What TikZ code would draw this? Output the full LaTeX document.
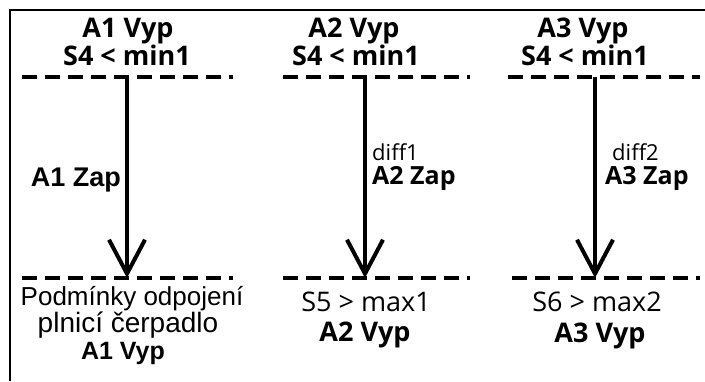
\documentclass[tikz,border=0pt]{standalone}
\usepackage{fontspec}
\usetikzlibrary{arrows.meta}
\newfontfamily\segfont{Open Sans}
\newfontfamily\robfont{Liberation Sans}
\begin{document}
\begin{tikzpicture}[x=1pt,y=-1pt,
  toptxt/.style={font=\segfont\bfseries\fontsize{27}{30}\selectfont, inner sep=0pt, anchor=base},
  segtxt/.style={font=\segfont\fontsize{27}{30}\selectfont, inner sep=0pt, anchor=base},
  difftxt/.style={font=\segfont\fontsize{22}{24}\selectfont, inner sep=0pt, anchor=base west},
  segbold/.style={font=\segfont\bfseries\fontsize{25}{28}\selectfont, inner sep=0pt, anchor=base},
  segboldb/.style={font=\segfont\bfseries\fontsize{27}{30}\selectfont, inner sep=0pt, anchor=base},
  robtxt/.style={font=\robfont\fontsize{26}{28}\selectfont, inner sep=0pt, anchor=base},
  robtxtb/.style={font=\robfont\fontsize{28}{30}\selectfont, inner sep=0pt, anchor=base},
  robbold/.style={font=\robfont\bfseries\fontsize{27}{28}\selectfont, inner sep=0pt, anchor=base},
  robboldb/.style={font=\robfont\bfseries\fontsize{25}{28}\selectfont, inner sep=0pt, anchor=base},
  dashline/.style={line width=4pt, dash pattern=on 15pt off 8pt},
  flow/.style={line width=4pt, -{Straight Barb[length=34pt,width=36pt]}},
  frame/.style={line width=2.5pt}]
\useasboundingbox (0,0) rectangle (705,381);
\draw[frame] (10,381) -- (10,10) -- (705,10);
% column 1
\node[toptxt] (t1a) at (128,37) {A1 Vyp};
\node[toptxt] (t1b) at (127,65) {S4 < min1};
\coordinate (d1l) at (22,77); \coordinate (d1r) at (233,77);
\coordinate (e1l) at (22,278); \coordinate (e1r) at (233,278);
\draw[dashline] (d1l) -- (d1r);
\draw[dashline] (e1l) -- (e1r);
\coordinate (s1) at (127,77); \coordinate (f1) at (127,278);
\draw[flow] (s1) -- (f1);
\node[robbold, anchor=base east] (z1) at (121,186) {A1 Zap};
\node[robtxt] (b1a) at (132,305) {Podmínky odpojení};
\node[robtxtb] (b1b) at (128,332) {plnicí čerpadlo};
\node[robboldb] (b1c) at (123,359) {A1 Vyp};
% column 2
\node[toptxt] (t2a) at (354,37) {A2 Vyp};
\node[toptxt] (t2b) at (356,65) {S4 < min1};
\coordinate (d2l) at (283,77); \coordinate (d2r) at (470,77);
\coordinate (e2l) at (283,278); \coordinate (e2r) at (470,278);
\draw[dashline] (d2l) -- (d2r);
\draw[dashline] (e2l) -- (e2r);
\coordinate (s2) at (365,77); \coordinate (f2) at (365,278);
\draw[flow] (s2) -- (f2);
\node[difftxt] (df1) at (372,160) {diff1};
\node[segbold, anchor=base west] (z2) at (372,184) {A2 Zap};
\node[segtxt] (b2a) at (366,311) {S5 > max1};
\node[segboldb] (b2b) at (365,341) {A2 Vyp};
% column 3
\node[toptxt] (t3a) at (583,37) {A3 Vyp};
\node[toptxt] (t3b) at (585,65) {S4 < min1};
\coordinate (d3l) at (508,77); \coordinate (d3r) at (700,77);
\coordinate (e3l) at (512,278); \coordinate (e3r) at (700,278);
\draw[dashline] (d3l) -- (d3r);
\draw[dashline] (e3l) -- (e3r);
\coordinate (s3) at (595,77); \coordinate (f3) at (595,278);
\draw[flow] (s3) -- (f3);
\node[difftxt] (df2) at (612,160) {diff2};
\node[segbold, anchor=base west] (z3) at (605,184) {A3 Zap};
\node[segtxt] (b3a) at (597,311) {S6 > max2};
\node[segboldb] (b3b) at (600,342) {A3 Vyp};
\end{tikzpicture}
\end{document}
